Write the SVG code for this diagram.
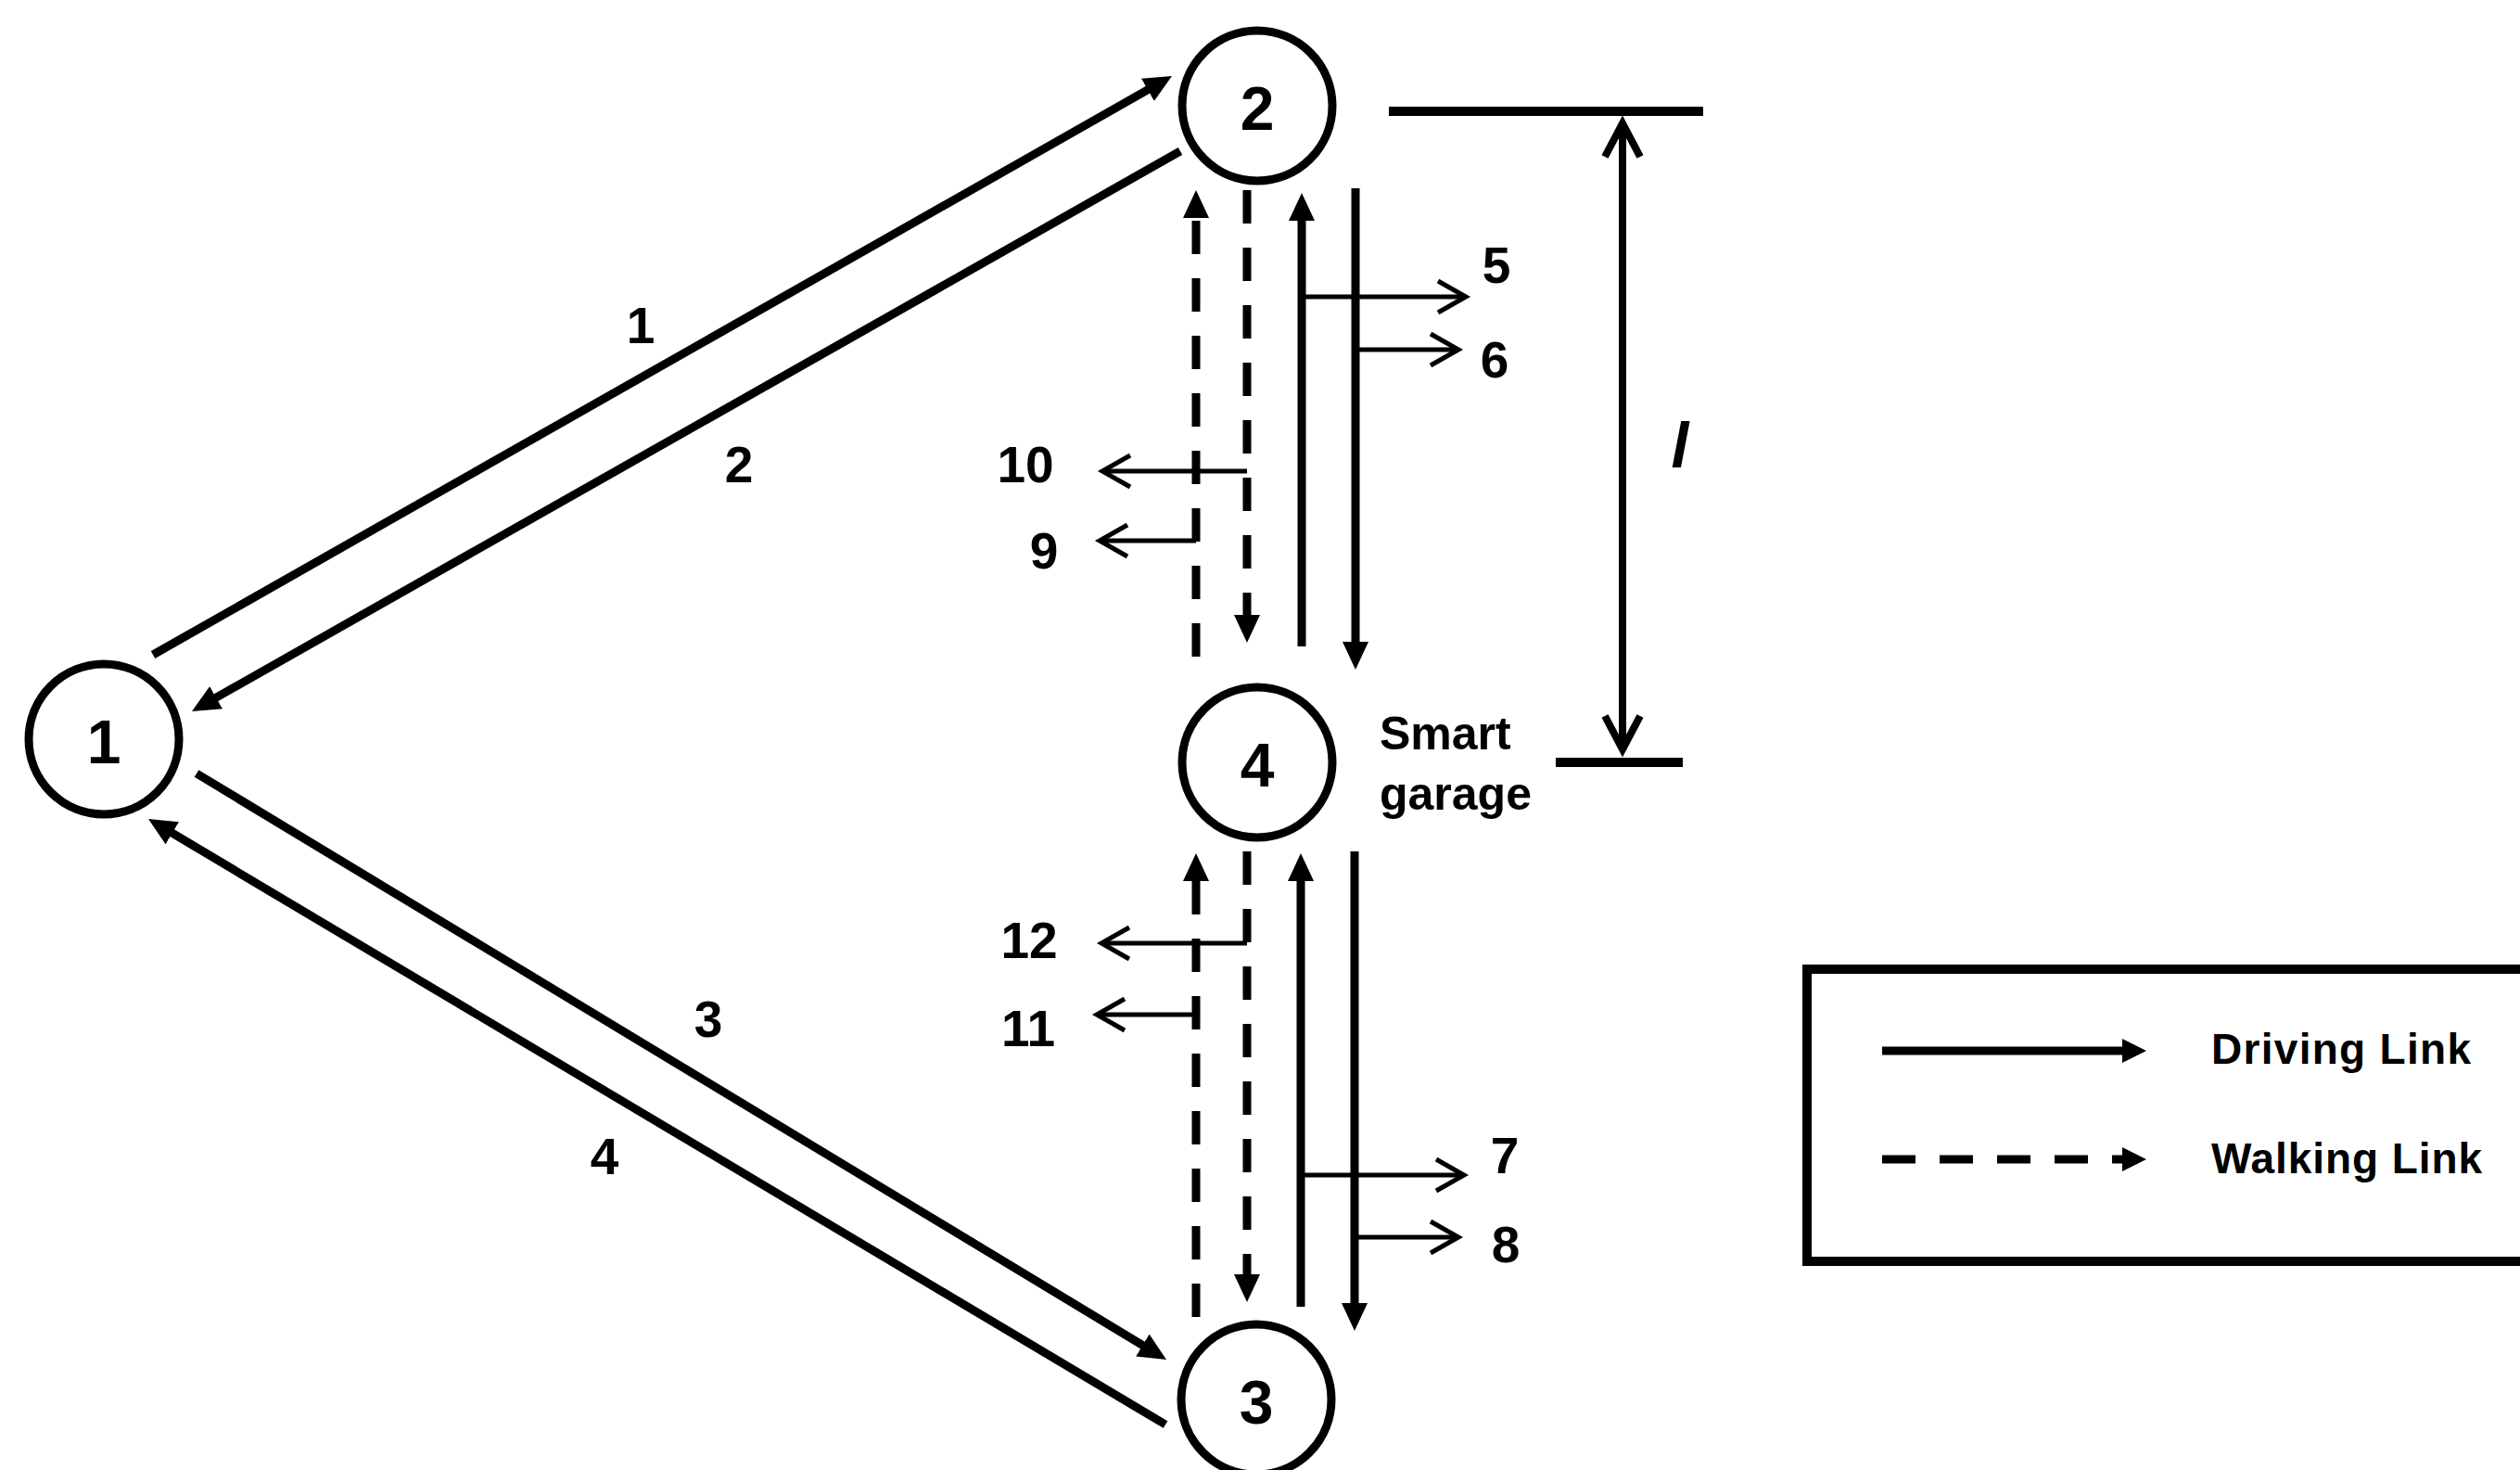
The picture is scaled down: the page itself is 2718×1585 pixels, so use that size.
<svg xmlns="http://www.w3.org/2000/svg" width="2718" height="1585" viewBox="0 0 2718 1585">
<style>
.node{fill:#fff;stroke:#000;stroke-width:9}
.nl{font-family:"Liberation Sans",Arial,sans-serif;font-weight:bold;font-size:66px;text-anchor:middle;fill:#000}
.lab{font-family:"Liberation Sans",Arial,sans-serif;font-weight:bold;font-size:55px;text-anchor:middle;fill:#000}
.txt{font-family:"Liberation Sans",Arial,sans-serif;font-weight:bold;font-size:50px;fill:#000}
.leg{font-family:"Liberation Sans",Arial,sans-serif;font-weight:bold;font-size:46px;fill:#000}
.drive{fill:none;stroke:#000;stroke-width:9;marker-end:url(#ah)}
.walk{fill:none;stroke:#000;stroke-width:9;stroke-dasharray:36 26;marker-end:url(#ah)}
.br{fill:none;stroke:#000;stroke-width:5;marker-end:url(#open)}
</style>
<defs>
<marker id="ah" viewBox="0 0 30 28" refX="10" refY="14" markerWidth="30" markerHeight="28" markerUnits="userSpaceOnUse" orient="auto"><path d="M0,0 L30,14 L0,28 z" fill="#000"/></marker>
<marker id="ahs" viewBox="0 0 26 26" refX="8" refY="13" markerWidth="26" markerHeight="26" markerUnits="userSpaceOnUse" orient="auto"><path d="M0,0 L26,13 L0,26 z" fill="#000"/></marker>
<marker id="open" viewBox="-34 -20 40 40" refX="0" refY="0" markerWidth="40" markerHeight="40" markerUnits="userSpaceOnUse" orient="auto" overflow="visible"><path d="M-30,-17 L0,0 L-30,17" fill="none" stroke="#000" stroke-width="5"/></marker>
<marker id="vdim" viewBox="-40 -22 46 44" refX="0" refY="0" markerWidth="46" markerHeight="44" markerUnits="userSpaceOnUse" orient="auto-start-reverse" overflow="visible"><path d="M-36,-19 L0,0 L-36,19" fill="none" stroke="#000" stroke-width="8"/></marker>
</defs>
<rect x="0" y="0" width="2718" height="1585" fill="#fff"/>

<g id="connectors">
<line class="drive" x1="165" y1="706" x2="1246.6" y2="91.9"/>
<line class="drive" x1="1273" y1="163" x2="224.4" y2="757.1"/>
<line class="drive" x1="212" y1="834" x2="1240.9" y2="1455.7"/>
<line class="drive" x1="1257" y1="1536" x2="177.2" y2="893.2"/>

<line class="walk" x1="1290" y1="708" x2="1290" y2="225"/>
<line class="walk" x1="1345" y1="205" x2="1345" y2="673"/>
<line class="drive" x1="1404" y1="697" x2="1404" y2="228"/>
<line class="drive" x1="1462" y1="203" x2="1462" y2="702"/>

<line class="walk" x1="1290" y1="1420" x2="1290" y2="940"/>
<line class="walk" x1="1345" y1="918" x2="1345" y2="1384"/>
<line class="drive" x1="1403" y1="1409" x2="1403" y2="940"/>
<line class="drive" x1="1461" y1="918" x2="1461" y2="1415"/>

<line class="br" x1="1404" y1="320" x2="1581" y2="320"/>
<line class="br" x1="1462" y1="377" x2="1573" y2="377"/>
<line class="br" x1="1345" y1="508" x2="1189" y2="508"/>
<line class="br" x1="1290" y1="583" x2="1186" y2="583"/>
<line class="br" x1="1345" y1="1017" x2="1188" y2="1017"/>
<line class="br" x1="1290" y1="1094" x2="1183" y2="1094"/>
<line class="br" x1="1403" y1="1267" x2="1579" y2="1267"/>
<line class="br" x1="1461" y1="1334" x2="1573" y2="1334"/>
</g>

<g id="dimension">
<line x1="1498" y1="120" x2="1837" y2="120" stroke="#000" stroke-width="10"/>
<line x1="1678" y1="822" x2="1815" y2="822" stroke="#000" stroke-width="10"/>
<line x1="1750" y1="133" x2="1750" y2="808" stroke="#000" stroke-width="8" marker-start="url(#vdim)" marker-end="url(#vdim)"/>
<text x="1812" y="504" font-family="'Liberation Sans',Arial,sans-serif" font-style="italic" font-weight="bold" font-size="68" text-anchor="middle">l</text>
</g>

<g id="node1"><circle class="node" cx="112" cy="797" r="81"/><text class="nl" x="112" y="823">1</text></g>
<g id="node2"><circle class="node" cx="1356" cy="114" r="81"/><text class="nl" x="1356" y="140">2</text></g>
<g id="node4"><circle class="node" cx="1356" cy="822" r="81"/><text class="nl" x="1356" y="848">4</text>
<text class="txt" x="1488" y="808">Smart</text><text class="txt" x="1488" y="873">garage</text></g>
<g id="node3"><circle class="node" cx="1355" cy="1509" r="81"/><text class="nl" x="1355" y="1535">3</text></g>

<g id="link-labels">
<text class="lab" x="691" y="370">1</text>
<text class="lab" x="797" y="520">2</text>
<text class="lab" x="764" y="1118">3</text>
<text class="lab" x="652" y="1266">4</text>
<text class="lab" x="1614" y="305">5</text>
<text class="lab" x="1612" y="407">6</text>
<text class="lab" x="1106" y="520">10</text>
<text class="lab" x="1126" y="613">9</text>
<text class="lab" x="1110" y="1033">12</text>
<text class="lab" x="1109" y="1128">11</text>
<text class="lab" x="1623" y="1265">7</text>
<text class="lab" x="1624" y="1361">8</text>
</g>

<g id="legend">
<rect x="1949" y="1045" width="820" height="315" fill="none" stroke="#000" stroke-width="10"/>
<line x1="2030" y1="1133" x2="2297" y2="1133" stroke="#000" stroke-width="9" marker-end="url(#ahs)"/>
<line x1="2030" y1="1250" x2="2297" y2="1250" stroke="#000" stroke-width="9" stroke-dasharray="36 26" marker-end="url(#ahs)"/>
<text class="leg" x="2385" y="1147" textLength="280" lengthAdjust="spacing">Driving Link</text>
<text class="leg" x="2385" y="1265" textLength="292" lengthAdjust="spacing">Walking Link</text>
</g>
</svg>
